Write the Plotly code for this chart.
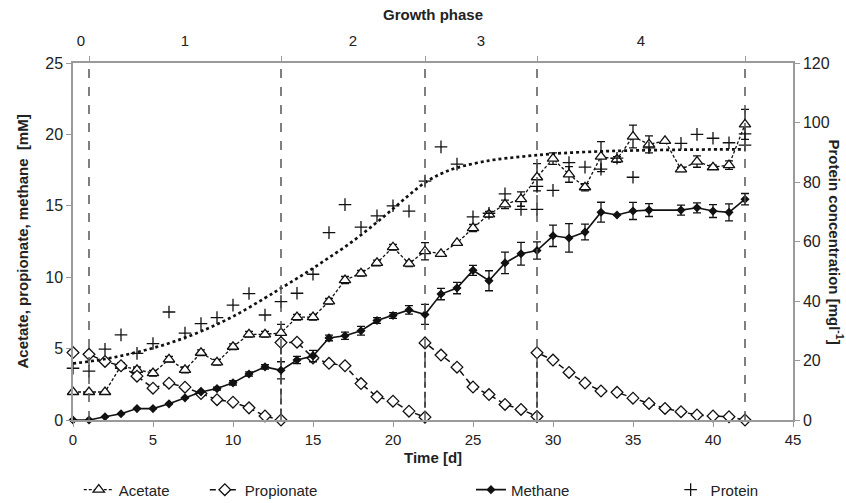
import plotly.graph_objects as go

# ---------------- data ----------------
days_ac = list(range(0, 43))
acetate = [1.96, 1.96, 1.96, 3.79, 3.51, 3.28, 4.25, 3.51, 4.71, 4.04, 5.13, 6.0, 6.0, 6.1,
           7.2, 7.2, 8.31, 9.8, 10.27, 11.0, 12.1, 10.95, 11.82, 11.64, 12.4, 13.44, 14.4,
           15.1, 15.47, 17.0, 18.3, 17.2, 16.3, 18.45, 18.25, 19.85, 19.3, 19.55, 17.55,
           18.1, 17.7, 17.85, 20.7]
acetate_err = [0, 0, 0, 0.2, 0.2, 0.2, 0.2, 0.2, 0.2, 0.2, 0.2, 0.2, 0.2, 0.6,
               0.2, 0.2, 0.2, 0.25, 0.2, 0.2, 0.2, 0.2, 0.6, 0, 0, 0.25, 0.2,
               0.3, 0.5, 0.95, 0.4, 0.55, 0.25, 1.05, 0.2, 0.8, 0.6, 0, 0.15,
               0.4, 0.15, 0.3, 1.05]

days_me = list(range(0, 37)) + [38, 39, 40, 41, 42]
methane = [0, 0, 0.23, 0.44, 0.8, 0.8, 1.13, 1.55, 1.96, 2.2, 2.6, 3.22, 3.72, 3.48,
           4.2, 4.48, 5.75, 5.9, 6.25, 6.97, 7.32, 7.71, 7.39, 8.82, 9.24, 10.48, 9.75,
           11.0, 11.64, 11.87, 12.9, 12.75, 13.16, 14.55, 14.36, 14.64, 14.7,
           14.7, 14.86, 14.63, 14.54, 15.46]
methane_err = [0, 0, 0, 0, 0, 0, 0, 0, 0, 0.1, 0.15, 0.15, 0.15, 0.6,
               0.25, 0.4, 0.2, 0.25, 0.3, 0.2, 0.2, 0.3, 0.7, 0.4, 0.4, 0.35, 0.7,
               0.75, 0.8, 0.6, 0.75, 1.0, 0.55, 0.7, 0, 0.6, 0.45,
               0.35, 0.35, 0.45, 0.6, 0.4]

days_pr = (list(range(0, 14)) + list(range(13, 23)) + list(range(22, 30)) + list(range(29, 43)))
propionate = ([4.72, 4.6, 4.1, 3.8, 3.07, 2.23, 2.58, 2.3, 1.85, 1.42, 1.25, 0.85, 0.28, 0.0] +
              [5.42, 5.45, 4.35, 3.97, 3.8, 2.55, 1.62, 1.32, 0.62, 0.2] +
              [5.4, 4.55, 3.7, 2.31, 1.78, 1.09, 0.74, 0.25] +
              [4.71, 4.2, 3.33, 2.59, 2.03, 1.94, 1.53, 1.16, 0.81, 0.58, 0.35, 0.28, 0.23, 0.0])

days_prot = list(range(0, 37)) + [38, 39, 40, 41, 42, 29, 42]
protein = [17.4, 16.4, 23.8, 28.6, 22.4, 25.7, 36.3, 29.2, 32.4, 34.4, 38.6, 42.5, 35.3,
           39.8, 42.6, 49.0, 63.0, 72.4, 64.8, 68.6, 72.0, 70.2, 80.3, 91.8, 86.0, 68.3,
           69.5, 76.0, 70.8, 70.8, 77.2, 86.5, 85.0, 84.3, 88.0, 81.6, 91.5,
           93.0, 96.0, 94.7, 93.2, 92.4, 78.5, 96.2]

days_fit = [0, 2, 4, 6, 8, 10, 12, 13, 14, 15, 16, 17, 18, 19, 20, 21, 22, 23, 24, 26, 28,
            30, 33, 36, 39, 42]
protein_fit = [19.0, 20.5, 22.8, 25.8, 29.8, 34.8, 41.0, 44.3, 47.6, 51.0, 54.6, 58.2, 62.2,
               66.5, 71.0, 75.6, 79.8, 82.8, 84.8, 87.2, 88.5, 89.5, 90.3, 90.7, 90.9, 91.0]

phase_bounds = [1, 13, 22, 29, 42]
phase_labels = ["0", "1", "2", "3", "4"]
phase_mid = [0.5, 7, 17.5, 25.5, 35.5]

x_ticks = list(range(0, 46, 5))

# ---------------- figure ----------------
ARIAL = "Liberation Sans, Arial, sans-serif"
BLACK = "#111111"
AX = "#9a9a9a"
TXT = "#222222"

fig = go.Figure()

fig.add_trace(go.Scatter(
    x=days_ac, y=acetate, name="Acetate", mode="lines+markers", legend="legend",
    line=dict(color=BLACK, width=1.3, dash="3px,2px"),
    marker=dict(symbol="triangle-up", size=10, color="white", line=dict(color=BLACK, width=1.3)),
    error_y=dict(type="data", array=acetate_err, visible=True, color=BLACK, thickness=1.3, width=4),
    cliponaxis=False))

fig.add_trace(go.Scatter(
    x=days_pr, y=propionate, name="Propionate", mode="lines+markers", legend="legend2",
    line=dict(color=BLACK, width=1.5, dash="6px,4px"),
    marker=dict(symbol="diamond", size=9, color="white", line=dict(color=BLACK, width=1.3)),
    cliponaxis=False))

fig.add_trace(go.Scatter(
    x=days_me, y=methane, name="Methane", mode="lines+markers", legend="legend3",
    line=dict(color=BLACK, width=1.6),
    marker=dict(symbol="diamond", size=7, color=BLACK),
    error_y=dict(type="data", array=methane_err, visible=True, color=BLACK, thickness=1.3, width=4),
    cliponaxis=False))

fig.add_trace(go.Scatter(
    x=days_fit, y=protein_fit, yaxis="y2", mode="lines", showlegend=False,
    line=dict(color=BLACK, width=2.7, dash="dot", shape="spline"), hoverinfo="skip"))

fig.add_trace(go.Scatter(
    x=days_prot, y=protein, yaxis="y2", name="Protein", mode="markers", legend="legend4",
    marker=dict(symbol="cross-thin", size=9, line=dict(color=BLACK, width=1.3)),
    cliponaxis=False))

# invisible trace so the top axis is drawn
fig.add_trace(go.Scatter(x=[0, 45], y=[None, None], xaxis="x2", showlegend=False,
                         mode="lines", hoverinfo="skip"))

for b in phase_bounds:
    fig.add_shape(type="line", xref="x", yref="paper", x0=b, x1=b, y0=0, y1=1,
                  line=dict(color="#555555", width=1.5, dash="dash"), layer="above")

fig.update_layout(
    width=846, height=503,
    margin=dict(l=73, r=53, t=63, b=83, autoexpand=False),
    paper_bgcolor="white", plot_bgcolor="white",
    font=dict(family=ARIAL, color=TXT, size=15),
    xaxis=dict(range=[0, 45], tickvals=x_ticks, ticks="outside", ticklen=5, tickcolor=AX,
               showline=True, linecolor=AX, linewidth=1.5, showgrid=False, zeroline=False,
               tickfont=dict(family=ARIAL, size=15, color=TXT)),
    xaxis2=dict(range=[0, 45], overlaying="x", side="top", tickvals=phase_mid,
                ticktext=phase_labels, ticks="outside", ticklen=9,
                tickcolor="rgba(0,0,0,0)", showline=True,
                linecolor=AX, linewidth=1.5, showgrid=False, zeroline=False,
                minor=dict(tickvals=phase_bounds, ticks="outside", ticklen=5, tickcolor=AX),
                tickfont=dict(family=ARIAL, size=15, color=TXT)),
    yaxis=dict(range=[0, 25], dtick=5, ticks="outside", ticklen=5, tickcolor=AX,
               showline=True, linecolor=AX, linewidth=1.5, showgrid=False, zeroline=False,
               tickfont=dict(family=ARIAL, size=16, color=TXT)),
    yaxis2=dict(range=[0, 120], dtick=20, overlaying="y", side="right", ticks="outside",
                ticklen=5, tickcolor=AX, showline=True, linecolor=AX, linewidth=1.5,
                showgrid=False, zeroline=False,
                tickfont=dict(family=ARIAL, size=16, color=TXT)),
    showlegend=True,
)

leg_common = dict(orientation="h", xref="container", yref="container", y=0.026,
                  yanchor="middle", xanchor="left", bgcolor="rgba(0,0,0,0)",
                  font=dict(family=ARIAL, size=15, color=TXT))
fig.update_layout(
    legend=dict(x=0.0931, **leg_common),
    legend2=dict(x=0.2421, **leg_common),
    legend3=dict(x=0.5567, **leg_common),
    legend4=dict(x=0.7927, **leg_common),
)

fig.add_annotation(text="<b>Growth phase</b>", xref="paper", yref="paper", x=0.5, y=1.0,
                   yanchor="middle", yshift=49, showarrow=False,
                   font=dict(family=ARIAL, size=15, color=TXT))
fig.add_annotation(text="<b>Time [d]</b>", xref="paper", yref="paper", x=0.5, y=0.0,
                   yanchor="middle", yshift=-37, showarrow=False,
                   font=dict(family=ARIAL, size=15, color=TXT))
fig.add_annotation(text="<b>Acetate, propionate, methane  [mM]</b>", xref="paper", yref="paper",
                   x=0.0, xanchor="center", xshift=-51, y=0.5, yanchor="middle", textangle=-90,
                   showarrow=False, font=dict(family=ARIAL, size=15, color=TXT))
fig.add_annotation(text="<b>Protein concentration [mgl<sup>-1</sup>]</b>", xref="paper",
                   yref="paper", x=1.0, xanchor="center", xshift=43, y=0.5, yanchor="middle",
                   textangle=90, showarrow=False, font=dict(family=ARIAL, size=15, color=TXT))

fig.write_html("out.html")
